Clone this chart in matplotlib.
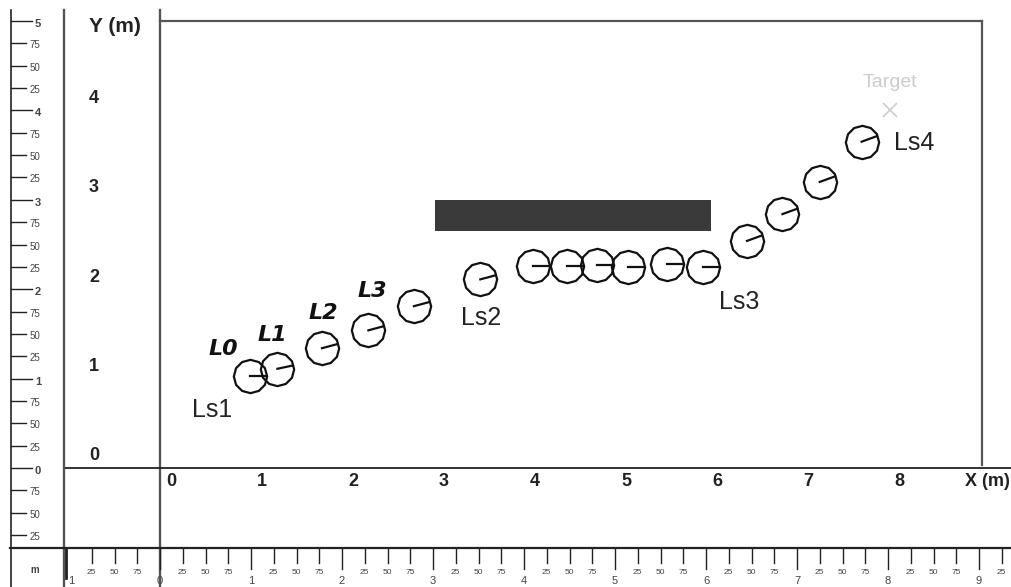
import numpy as np
import matplotlib
matplotlib.use('Agg')
import matplotlib.pyplot as plt
from matplotlib.patches import Rectangle

plt.rcParams['font.family'] = ['Liberation Sans', 'DejaVu Sans']

# robot poses, metres and degrees
robot_x = [0.99, 1.29, 1.78, 2.29, 2.79, 3.52, 4.10, 4.47, 4.80, 5.14, 5.57, 5.97, 6.45, 6.84, 7.25, 7.71]
robot_y = [1.03, 1.11, 1.34, 1.54, 1.81, 2.11, 2.26, 2.26, 2.27, 2.25, 2.28, 2.25, 2.54, 2.84, 3.20, 3.65]
robot_heading = [0, 12, 15, 15, 15, 15, 0, 0, 0, 0, 0, 0, 20, 20, 20, 20]

# obstacle x0, x1, y0, y1
obstacle = [3.02, 6.05, 2.65, 3.0]
target = [8.02, 4.0]

link_names = ['L0', 'L1', 'L2', 'L3']
link_x = [0.70, 1.23, 1.80, 2.33]
link_y = [1.33, 1.49, 1.73, 1.98]

stage_names = ['Ls1', 'Ls2', 'Ls3', 'Ls4']
stage_x = [0.57, 3.53, 6.36, 8.29]
stage_y = [0.65, 1.68, 1.86, 3.64]

axis_x_vals = [0, 1, 2, 3, 4, 5, 6, 7, 8]
axis_y_vals = [0, 1, 2, 3, 4]

ruler_minor = ['25', '50', '75']
ruler_x_major = [-1, 0, 1, 2, 3, 4, 5, 6, 7, 8, 9]
ruler_x_labels = ['1', '0', '1', '2', '3', '4', '5', '6', '7', '8', '9']
ruler_y_major = [-1, 0, 1, 2, 3, 4, 5]
ruler_y_labels = ['', '0', '1', '2', '3', '4', '5']

PX_X = 91.0
PX_Y = 89.4

fig = plt.figure(figsize=(10.11, 5.87), dpi=100)
ax = fig.add_axes([0, 0, 1, 1])
ax.set_xlim(-160 / PX_X, (1011 - 160) / PX_X)
ax.set_ylim((468 - 587) / PX_Y, 468 / PX_Y)
ax.axis('off')

def xp(px):
    return (px - 160) / PX_X

def yp(py):
    return (468 - py) / PX_Y

gray = '#555555'
dark = '#222222'
soft = '#444444'

# frame of the workspace
ax.plot([0, 0], [yp(587), yp(10)], color=gray, lw=1.7)
ax.plot([0, xp(982)], [yp(21), yp(21)], color=gray, lw=1.6)
ax.plot([xp(982), xp(982)], [yp(21), yp(465)], color=gray, lw=1.6)
ax.plot([xp(65), xp(1011)], [0, 0], color=dark, lw=1.3)
ax.plot([xp(64), xp(64)], [yp(587), yp(10)], color=gray, lw=1.7)

# left ruler
ax.plot([xp(11), xp(11)], [yp(587), yp(10)], color=dark, lw=1.2)
for i, v in enumerate(ruler_y_major):
    if ruler_y_labels[i]:
        ax.plot([xp(11), xp(32)], [v, v], color=dark, lw=1.0)
        ax.text(xp(38), v - 3 / PX_Y, ruler_y_labels[i], fontsize=8, fontweight='bold',
                ha='center', va='center', color=soft)
    if v == 5:
        continue
    for k, lab in enumerate(ruler_minor):
        pos = v + (k + 1) * 0.25
        ax.plot([xp(11), xp(26)], [pos, pos], color=dark, lw=1.0)
        ax.text(xp(35), pos - 2 / PX_Y, lab, fontsize=7, ha='center', va='center', color=soft)

# bottom ruler
ax.plot([xp(10), xp(1011)], [yp(548), yp(548)], color=dark, lw=1.6)
ax.plot([xp(66), xp(66)], [yp(548), yp(578)], color=dark, lw=2.0)
for i, v in enumerate(ruler_x_major):
    if v != -1:
        ax.plot([v, v], [yp(548), yp(569)], color=dark, lw=1.0)
        ax.text(v, yp(581), ruler_x_labels[i], fontsize=8, ha='center', va='center', color=soft)
    else:
        ax.text(v + 2 / PX_X, yp(581), ruler_x_labels[i], fontsize=8, ha='center', va='center', color=soft)
    for k, lab in enumerate(ruler_minor):
        pos = v + (k + 1) * 0.25
        if xp(1011) - pos < 0.1:
            continue
        ax.plot([pos, pos], [yp(548), yp(563)], color=dark, lw=1.0)
        ax.text(pos, yp(572), lab, fontsize=6, ha='center', va='center', color=soft)
ax.text(xp(35), yp(570), 'm', fontsize=7, fontweight='bold', ha='center', va='center', color=soft)

# axis numbers
for v in axis_x_vals:
    ax.text(v + 11 / PX_X, yp(481), str(v), fontsize=13, fontweight='bold', ha='center', va='center', color=dark)
for v in axis_y_vals:
    ax.text(xp(94), v + 12 / PX_Y, str(v), fontsize=13, fontweight='bold', ha='center', va='center', color=dark)
ax.text(xp(115), yp(26), 'Y (m)', fontsize=15, fontweight='bold', ha='center', va='center', color=dark)
ax.text(xp(965), yp(481), 'X (m)', fontsize=13, fontweight='bold', ha='left', va='center', color=dark)

# obstacle
ax.add_patch(Rectangle((obstacle[0], obstacle[2]), obstacle[1] - obstacle[0], obstacle[3] - obstacle[2],
                       facecolor='#3a3a3a', edgecolor='none'))

# robot poses with heading ticks
ax.plot(robot_x, robot_y, linestyle='none', marker=(12, 0, 0), markersize=24, markerfacecolor='none',
        markeredgecolor='#111111', markeredgewidth=1.6)
for x, y, h in zip(robot_x, robot_y, robot_heading):
    a = np.radians(h)
    ax.plot([x, x + 16 / PX_X * np.cos(a)], [y, y + 16 / PX_Y * np.sin(a)], color='#111111', lw=1.6)

for name, x, y in zip(link_names, link_x, link_y):
    ax.text(x, y, name, fontsize=16, family=['DejaVu Sans'], fontweight='bold', style='italic',
            ha='center', va='center', color='#111111')
for name, x, y in zip(stage_names, stage_x, stage_y):
    ax.text(x, y, name, fontsize=18, ha='center', va='center', color=dark)

# target
ax.plot([target[0]], [target[1]], marker='x', markersize=10, markeredgecolor='#cccccc', markeredgewidth=1.2, linestyle='none')
ax.text(target[0], target[1] + 0.31, 'Target', fontsize=14, ha='center', va='center', color='#cccccc')

fig.savefig('out.png', dpi=100)
